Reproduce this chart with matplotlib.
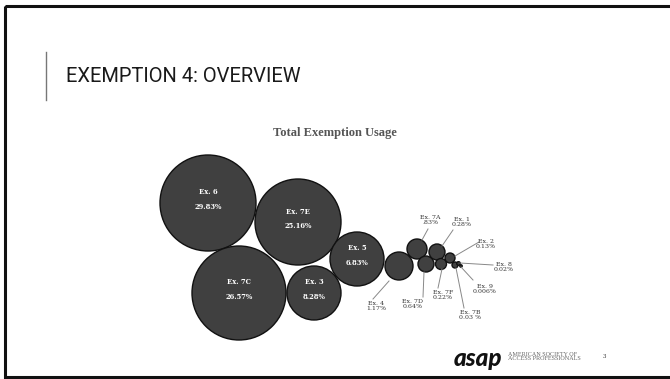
import matplotlib
matplotlib.use("Agg")
import matplotlib.pyplot as plt
from matplotlib.patches import Circle, Rectangle

# bubble chart data (percent of total exemption usage)
names = ["Ex. 6", "Ex. 7E", "Ex. 7C", "Ex. 3", "Ex. 5", "Ex. 4", "Ex. 7A", "Ex. 7D",
         "Ex. 1", "Ex. 7F", "Ex. 2", "Ex. 7B", "Ex. 8", "Ex. 9"]
pct_labels = ["29.83%", "25.16%", "26.57%", "8.28%", "6.83%", "1.17%", ".83%", "0.64%",
              "0.28%", "0.22%", "0.13%", "0.03 %", "0.02%", "0.006%"]
# bubble centres and radii (packed layout, pixel units)
bubble_x = [208, 298, 239, 314, 357, 399, 417, 426, 437, 441, 450, 455, 458.5, 461]
bubble_y = [203, 222, 293, 293, 259, 266, 249, 264, 252, 264, 258, 265, 263.5, 266]
bubble_r = [48, 43, 47, 27, 27, 14, 10, 8, 8, 5.5, 5, 3, 1.8, 1.2]

n_inside = 5  # the five biggest bubbles carry their label inside

# callout labels for small bubbles: label anchor and line ends
callout_text = [(376, 306), (430, 220), (413, 304), (462, 222), (443, 295),
                (486, 244), (470, 315), (504, 267), (485, 289)]
callout_line = [((373, 299), (389, 281)), ((428, 229), (422, 240)),
                ((423, 297), (424, 272)), ((453, 230), (442, 246)),
                ((438, 288), (442, 269)), ((479, 242), (455, 256)),
                ((464, 308), (456, 268)), ((493, 265), (460, 263)),
                ((473, 280), (461, 267))]

fig = plt.figure(figsize=(6.7, 3.79), dpi=100)
ax = fig.add_axes([0, 0, 1, 1])
ax.set_xlim(0, 670)
ax.set_ylim(379, 0)
ax.axis("off")

# slide frame
ax.add_patch(Rectangle((5, 6), 680, 371, fill=False, lw=2.2, ec="#111111"))
ax.plot([46, 46], [52, 100], color="#777777", lw=1)
ax.text(66, 77, "EXEMPTION 4: OVERVIEW", fontsize=14.5, family="Roboto",
        color="#1a1a1a", va="center", ha="left")

ax.text(335, 133, "Total Exemption Usage", fontsize=9, fontweight="bold",
        family="Liberation Serif", color="#555555", ha="center", va="center")

for i in range(len(names)):
    ax.add_patch(Circle((bubble_x[i], bubble_y[i]), bubble_r[i], fc="#404040",
                        ec="#111111", lw=1.0))

for i in range(n_inside):
    ax.text(bubble_x[i], bubble_y[i] - 10.5, names[i], color="white", fontsize=4.9,
            fontweight="bold", family="DejaVu Serif", ha="center", va="center")
    ax.text(bubble_x[i], bubble_y[i] + 4, pct_labels[i], color="white", fontsize=4.9,
            fontweight="bold", family="DejaVu Serif", ha="center", va="center")

for k, i in enumerate(range(n_inside, len(names))):
    (x0, y0), (x1, y1) = callout_line[k]
    ax.plot([x0, x1], [y0, y1], color="#888888", lw=0.7)
    tx, ty = callout_text[k]
    ax.text(tx, ty, names[i] + "\n" + pct_labels[i], color="#333333", fontsize=4.5,
            family="DejaVu Serif", ha="center", va="center", linespacing=1.1)

# logo and page number
ax.text(454, 358, "asap", fontsize=17.5, fontweight="black", fontstyle="italic",
        family="Lato", color="#111111", ha="left", va="center")
ax.text(508, 356.5, "AMERICAN SOCIETY OF\nACCESS PROFESSIONALS", fontsize=4.4,
        family="Liberation Serif", color="#666666", ha="left", va="center", linespacing=1.0)
ax.text(604, 357, "3", fontsize=4, family="DejaVu Serif", color="#333333",
        ha="center", va="center")

fig.savefig("out.png", dpi=100)
